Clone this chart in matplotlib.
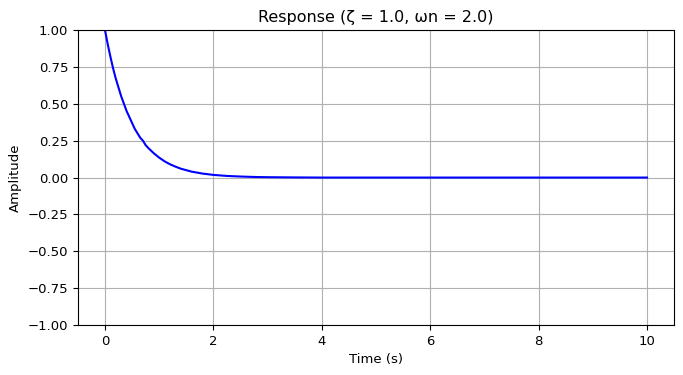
import matplotlib
matplotlib.use("Agg")
import matplotlib.pyplot as plt

# values
time_s = [0.0, 0.05, 0.1, 0.15, 0.2, 0.25, 0.3, 0.35, 0.4, 0.45, 0.5, 0.55, 0.6, 0.65,
          0.7, 0.75, 0.8, 0.9, 1.0, 1.1, 1.2, 1.3, 1.4, 1.5, 1.6, 1.8, 2.0, 2.25, 2.5,
          2.75, 3.0, 3.5, 4.0, 5.0, 6.0, 7.0, 8.0, 9.0, 10.0]
amplitude = [1.00, 0.905, 0.82, 0.74, 0.67, 0.61, 0.55, 0.50, 0.45, 0.41, 0.37, 0.33,
             0.30, 0.27, 0.25, 0.22, 0.20, 0.165, 0.135, 0.11, 0.09, 0.074, 0.06, 0.05,
             0.04, 0.027, 0.018, 0.011, 0.007, 0.004, 0.0025, 0.001, 0.0, 0.0, 0.0, 0.0,
             0.0, 0.0, 0.0]

title = "Response (ζ = 1.0, ωn = 2.0)"

fig, ax = plt.subplots(figsize=(6.83, 3.75), dpi=100)
ax.plot(time_s, amplitude, color="blue", linewidth=1.5)
ax.set_ylim(-1, 1)
ax.set_xlim(-0.5, 10.5)
ax.set_title(title, fontsize=11.5)
ax.set_xlabel("Time (s)", fontsize=9.5)
ax.set_ylabel("Amplitude", fontsize=9.5)
ax.tick_params(labelsize=9.5)
ax.grid(True)
fig.subplots_adjust(left=0.114, right=0.987, top=0.92, bottom=0.133)
fig.savefig("out.png", dpi=100)
